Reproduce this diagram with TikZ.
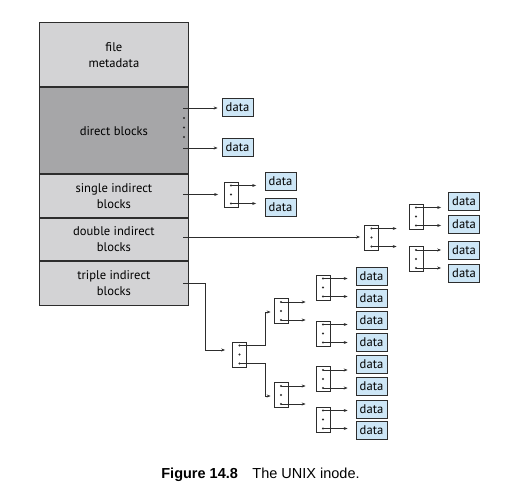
\documentclass[tikz,border=0pt]{standalone}
\usepackage{fontspec}
\setmainfont{PT Sans}
\newfontfamily\capfont{Liberation Sans}
\usetikzlibrary{arrows.meta}
\definecolor{lightg}{RGB}{211,211,213}
\definecolor{darkg}{RGB}{166,166,168}
\definecolor{datab}{RGB}{205,230,246}
\definecolor{ink}{RGB}{45,45,45}
\newcommand\ixb[3]{%
  \node[ibox] (#1) at (#2,#3) {};
  \coordinate (#1-t) at ([yshift=9pt]#1.center);
  \coordinate (#1-m) at (#1.center);
  \coordinate (#1-b) at ([yshift=-9pt]#1.center);
  \fill[ink] (#1-t) circle (1.1pt) (#1-m) circle (1.1pt) (#1-b) circle (1.1pt);}
\begin{document}
\begin{tikzpicture}[x=1pt,y=-1pt,
  blk/.style={draw=ink, line width=0.8pt, minimum width=149pt, inner sep=0pt,
    align=center, font=\fontsize{12.6}{16}\selectfont, anchor=north west},
  dbox/.style={draw=ink, line width=0.7pt, fill=datab, minimum width=31pt,
    minimum height=18pt, inner sep=0pt, font=\fontsize{12.6}{14}\selectfont},
  ibox/.style={draw=ink, line width=0.7pt, fill=white, minimum width=14pt,
    minimum height=25pt, inner sep=0pt},
  arr/.style={draw=ink, line width=0.7pt, -{Stealth[length=4pt,width=3pt]}}]
\useasboundingbox (0,0) rectangle (520,500);

% inode
\node[blk, fill=lightg, minimum height=64.5pt] (meta) at (39,22) {file\\metadata};
\node[blk, fill=darkg, minimum height=86pt] (direct) at (meta.south west) {direct blocks};
\node[blk, fill=lightg, minimum height=43pt] (single) at (direct.south west) {single indirect\\blocks};
\node[blk, fill=lightg, minimum height=42.5pt] (double) at (single.south west) {double indirect\\blocks};
\node[blk, fill=lightg, minimum height=44pt] (triple) at (double.south west) {triple indirect\\blocks};

% direct
\node[dbox] (dd1) at (237.5,107) {data};
\node[dbox] (dd2) at (237.5,147) {data};
\coordinate (dA) at (183,108);
\coordinate (dB) at (183,148);
\draw[arr, shorten >=4pt] (dA) -- (dA -| dd1.west);
\draw[arr, shorten >=4pt] (dB) -- (dB -| dd2.west);
\fill[ink] (184,118) circle (1.1pt) (184,127.5) circle (1.1pt) (184,137) circle (1.1pt);

% single
\ixb{S}{231}{194.5}
\node[dbox] (sd1) at (280.5,181) {data};
\node[dbox] (sd2) at (280.5,207.5) {data};
\coordinate (sA) at (183,194.5);
\draw[arr, shorten >=5.5pt] (sA) -- (sA -| S.west);
\draw[arr, shorten >=8.5pt] (S-t) -- (S-t -| sd1.west);
\draw[arr, shorten >=8.5pt] (S-b) -- (S-b -| sd2.west);

% double
\ixb{D}{371.5}{237.5}
\ixb{D1}{416}{216.5}
\ixb{D2}{416}{259}
\node[dbox] (Dd1) at (464,201) {data};
\node[dbox] (Dd2) at (464,224.5) {data};
\node[dbox] (Dd3) at (464,250) {data};
\node[dbox] (Dd4) at (464,273.5) {data};
\coordinate (dbA) at (183,237);
\draw[arr, shorten >=4pt] (dbA) -- (dbA -| D.west);
\draw[arr, shorten >=12pt] (D-t) -- (D-t -| D1.west);
\draw[arr, shorten >=12pt] (D-b) -- (D-b -| D2.west);
\draw[arr, shorten >=7pt] (D1-t) -- (D1-t -| Dd1.west);
\draw[arr, shorten >=7pt] (D1-b) -- (D1-b -| Dd2.west);
\draw[arr, shorten >=7pt] (D2-t) -- (D2-t -| Dd3.west);
\draw[arr, shorten >=7pt] (D2-b) -- (D2-b -| Dd4.west);

% triple
\ixb{T}{239.5}{354.5}
\ixb{T1}{281}{311}
\ixb{T2}{281}{395}
\ixb{TA}{323}{287.5}
\ixb{TB}{323}{333.5}
\ixb{TC}{323}{379}
\ixb{TD}{323}{419.5}
\node[dbox] (td1) at (371.5,276) {data};
\node[dbox] (td2) at (371.5,298) {data};
\node[dbox] (td3) at (371.5,320.5) {data};
\node[dbox] (td4) at (371.5,342) {data};
\node[dbox] (td5) at (371.5,364.5) {data};
\node[dbox] (td6) at (371.5,386) {data};
\node[dbox] (td7) at (371.5,409.5) {data};
\node[dbox] (td8) at (371.5,430.5) {data};
\coordinate (tA) at (183,283);
\coordinate (tB) at (205,350);
\coordinate (tJ) at (265,354.5);
\draw[arr, shorten >=7pt] (tA) -| (tB) -- (tB -| T.west);
\draw[arr, shorten >=3pt] (T-t) -- (T-t -| tJ) |- ([yshift=-1pt]T1.west);
\draw[arr, shorten >=3pt] (T-b) -- (T-b -| tJ) |- ([yshift=-1pt]T2.west);
\draw[arr, shorten >=10pt] (T1-t) -- (T1-t -| TA.west);
\draw[arr, shorten >=10pt] (T1-b) -- (T1-b -| TB.west);
\draw[arr, shorten >=10pt] (T2-t) -- (T2-t -| TC.west);
\draw[arr, shorten >=10pt] (T2-b) -- (T2-b -| TD.west);
\draw[arr, shorten >=8pt] (TA-t) -- (TA-t -| td1.west);
\draw[arr, shorten >=8pt] (TA-b) -- (TA-b -| td2.west);
\draw[arr, shorten >=8pt] (TB-t) -- (TB-t -| td3.west);
\draw[arr, shorten >=8pt] (TB-b) -- (TB-b -| td4.west);
\draw[arr, shorten >=8pt] (TC-t) -- (TC-t -| td5.west);
\draw[arr, shorten >=8pt] (TC-b) -- (TC-b -| td6.west);
\draw[arr, shorten >=8pt] (TD-t) -- (TD-t -| td7.west);
\draw[arr, shorten >=8pt] (TD-b) -- (TD-b -| td8.west);

% caption
\node[font=\capfont\fontsize{14.5}{16}\selectfont] (cap) at (260.5,475)
  {{\bfseries Figure 14.8}\quad The UNIX inode.};
\end{tikzpicture}
\end{document}
